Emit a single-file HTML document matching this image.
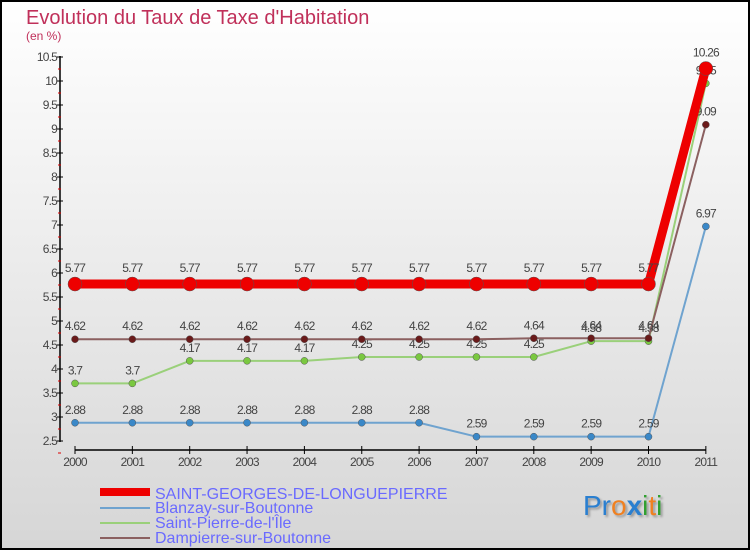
<!DOCTYPE html>
<html><head><meta charset="utf-8"><style>
body{margin:0}
svg{display:block;font-family:"Liberation Sans",sans-serif}
</style></head><body>
<svg width="750" height="550" viewBox="0 0 750 550">
<defs><linearGradient id="bg" x1="0" y1="0" x2="0" y2="1"><stop offset="0" stop-color="#ffffff"/><stop offset="1" stop-color="#d6d6d6"/></linearGradient></defs>
<rect x="1" y="1" width="748" height="548" fill="url(#bg)" stroke="#000" stroke-width="2"/>
<text x="26" y="24" font-size="20" fill="#c0305a">Evolution du Taux de Taxe d'Habitation</text>
<text x="26" y="40" font-size="12" fill="#c0305a">(en %)</text>
<g id="axes"></g>
<g id="series"></g>
<g>
<rect x="100" y="488" width="50" height="8" fill="#e00"/>
<text x="155" y="499" font-size="16" fill="#6a6aff">SAINT-GEORGES-DE-LONGUEPIERRE</text>
<rect x="100" y="507" width="50" height="2" fill="#6fa3cf"/>
<text x="155" y="513" font-size="16" fill="#6a6aff">Blanzay-sur-Boutonne</text>
<rect x="100" y="522" width="50" height="2" fill="#9ad07a"/>
<text x="155" y="528" font-size="16" fill="#6a6aff">Saint-Pierre-de-l'Île</text>
<rect x="100" y="537" width="50" height="2" fill="#8b6060"/>
<text x="155" y="543" font-size="16" fill="#6a6aff">Dampierre-sur-Boutonne</text>
</g>
<text x="583" y="515" font-size="28" style="text-shadow:2px 2px 2px #999"><tspan fill="#2a7fd0">Pr</tspan><tspan fill="#f08020">o</tspan><tspan fill="#2a7fd0" font-weight="bold">x</tspan><tspan fill="#30a030">i</tspan><tspan fill="#f08020">t</tspan><tspan fill="#30a030">i</tspan></text>
</svg>
<script>
const years=[2000,2001,2002,2003,2004,2005,2006,2007,2008,2009,2010,2011];
const yTicks=[2.5,3,3.5,4,4.5,5,5.5,6,6.5,7,7.5,8,8.5,9,9.5,10,10.5];
const saintGeorges=[5.77,5.77,5.77,5.77,5.77,5.77,5.77,5.77,5.77,5.77,5.77,10.26];
const blanzay=[2.88,2.88,2.88,2.88,2.88,2.88,2.88,2.59,2.59,2.59,2.59,6.97];
const saintPierre=[3.7,3.7,4.17,4.17,4.17,4.25,4.25,4.25,4.25,4.58,4.58,9.95];
const dampierre=[4.62,4.62,4.62,4.62,4.62,4.62,4.62,4.62,4.64,4.64,4.64,9.09];
const NS='http://www.w3.org/2000/svg';
const X=i=>75+i*57.35;
const Y=v=>441-(v-2.5)*48;
function mk(p,t,a){const e=document.createElementNS(NS,t);for(const k in a)e.setAttribute(k,a[k]);p.appendChild(e);return e;}
const ax=document.getElementById('axes');
const yl=mk(ax,'line',{x1:60,y1:56,x2:60,y2:442,stroke:'#000','stroke-width':1.5});


yTicks.forEach(v=>{
 mk(ax,'line',{x1:57,y1:Y(v),x2:63,y2:Y(v),stroke:'#000'});
 mk(ax,'line',{x1:58,y1:Y(v)+12,x2:61,y2:Y(v)+12,stroke:'#d00'});
 const t=mk(ax,'text',{x:57,y:Y(v)+4,'font-size':12,fill:'#444','text-anchor':'end','letter-spacing':'-0.8'});
 t.textContent=v;
 
 
});
const xl=mk(ax,'line',{x1:75,y1:450,x2:X(11),y2:450,stroke:'#000','stroke-width':1.5});


years.forEach((yr,i)=>{
 mk(ax,'line',{x1:X(i),y1:446,x2:X(i),y2:454,stroke:'#000'});
 const t=mk(ax,'text',{x:X(i),y:466,'font-size':12,fill:'#444','text-anchor':'middle','letter-spacing':'-0.8'});
 t.textContent=yr;
 
 
});
const sg=document.getElementById('series');
function series(data,name,color,w,r,dot,labelOff){
 const g=mk(sg,'g',{});
 
 
 mk(g,'polyline',{points:data.map((v,i)=>X(i)+','+Y(v)).join(' '),fill:'none',stroke:color,'stroke-width':w,'stroke-linejoin':'round'});
 data.forEach((v,i)=>{
  const c=mk(g,'circle',{cx:X(i),cy:Y(v),r:r,fill:dot,stroke:'#555','stroke-width':0.5});
  
  
  const t=mk(g,'text',{x:X(i),y:Y(v)-labelOff,'font-size':12,fill:'#444','text-anchor':'middle','letter-spacing':'-0.8'});
  t.textContent=v;
  
  
 });
}
series(blanzay,'blanzay-series','#6fa3cf',2,3.5,'#3a88c8',9);
series(saintPierre,'saint-pierre-series','#9ad07a',2,3.5,'#7ac840',9);
series(dampierre,'dampierre-series','#8b6060',2,3.5,'#6a1a1a',9);
series(saintGeorges,'saint-georges-series','#e00',9,7,'#e00',12);
</script>
</body></html>
